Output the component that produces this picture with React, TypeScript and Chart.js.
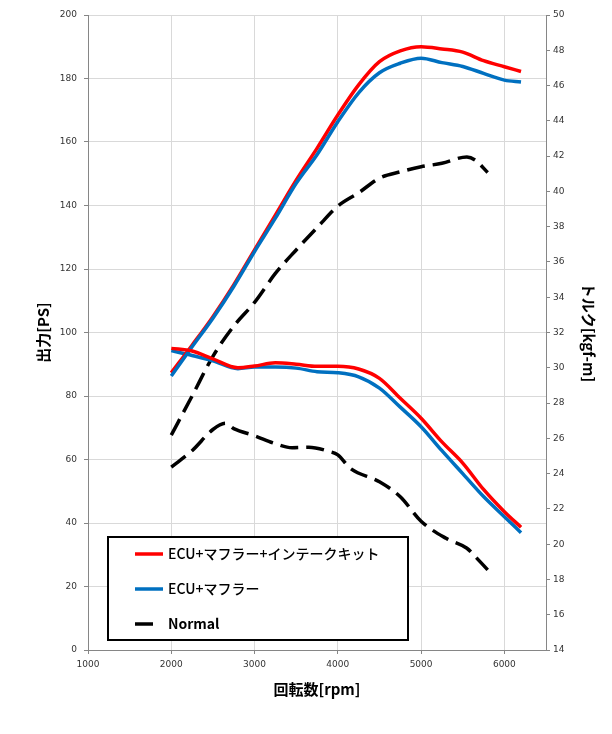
import React, { useEffect, useRef } from 'react';
import { Chart, registerables } from 'chart.js';

Chart.register(...registerables);

// ---- data ----
const xTicksMin = 1000;
const xTicksMax = 6500;
const xTickValues = [1000, 2000, 3000, 4000, 5000, 6000];
const psTickValues = [0, 20, 40, 60, 80, 100, 120, 140, 160, 180, 200];
const torqueTickValues = [14, 16, 18, 20, 22, 24, 26, 28, 30, 32, 34, 36, 38, 40, 42, 44, 46, 48, 50];

const rpmPowerFull = [2000, 2250, 2500, 2750, 3000, 3250, 3500, 3750, 4000, 4250, 4500, 4750, 5000, 5250, 5500, 5750, 6000, 6200];
const powerEcuMufflerIntake = [87.3, 96, 105, 115, 126, 137, 148, 158, 168.5, 178, 185.3, 188.7, 190, 189.3, 188.3, 185.6, 183.7, 182.2];
const powerEcuMuffler = [86.3, 95.5, 104.5, 114.5, 125.5, 136, 147, 156, 166.4, 175.5, 181.8, 184.8, 186.4, 185, 183.8, 181.6, 179.5, 178.9];

const rpmPowerNormal = [2000, 2250, 2500, 2750, 3000, 3250, 3500, 3750, 4000, 4250, 4500, 4750, 5000, 5250, 5550, 5650, 5800];
const powerNormal = [67.7, 80, 92.5, 102, 109.5, 118.6, 126, 133, 139.8, 144, 148.6, 150.6, 152.2, 153.3, 155.3, 154.3, 150.4];

const rpmTorqueFull = [2000, 2250, 2500, 2800, 3000, 3250, 3500, 3750, 4000, 4250, 4500, 4750, 5000, 5250, 5500, 5750, 6000, 6200];
const torqueEcuMufflerIntake = [31.1, 30.95, 30.5, 30.0, 30.1, 30.28, 30.2, 30.08, 30.08, 29.93, 29.4, 28.27, 27.14, 25.8, 24.6, 23.1, 21.84, 20.96];
const torqueEcuMuffler = [30.97, 30.7, 30.4, 29.95, 30.04, 30.04, 29.98, 29.78, 29.72, 29.49, 28.85, 27.77, 26.66, 25.3, 24.0, 22.7, 21.56, 20.65];

const rpmTorqueNormal = [2000, 2250, 2500, 2650, 2750, 3000, 3250, 3450, 3650, 3900, 4000, 4150, 4500, 4750, 5000, 5300, 5550, 5650, 5800];
const torqueNormal = [24.37, 25.3, 26.5, 26.85, 26.55, 26.15, 25.7, 25.47, 25.5, 25.25, 25.06, 24.3, 23.54, 22.69, 21.3, 20.33, 19.77, 19.3, 18.54];

const legendNames = ['ECU+マフラー+インテークキット', 'ECU+マフラー', 'Normal'];
const seriesColors = ['#ff0000', '#0070c0', '#000000'];

const toPoints = (xs: number[], ys: number[]) => xs.map((x, i) => ({ x, y: ys[i] }));
const fixedTicks = (values: number[]) => (s: any) => {
  s.ticks = values.map((v) => ({ value: v }));
};

const legendPlugin = {
  id: 'boxLegend',
  afterDatasetsDraw(chart: any) {
    const ctx = chart.ctx as CanvasRenderingContext2D;
    ctx.save();
    ctx.fillStyle = '#ffffff';
    ctx.fillRect(108, 537, 300, 103);
    ctx.lineWidth = 2;
    ctx.strokeStyle = '#000000';
    ctx.strokeRect(108, 537, 300, 103);
    legendNames.forEach((name, i) => {
      const y = 554 + i * 35;
      ctx.strokeStyle = seriesColors[i];
      ctx.lineWidth = 3.5;
      ctx.beginPath();
      ctx.moveTo(135, y);
      ctx.lineTo(i === 2 ? 153 : 163, y);
      ctx.stroke();
      ctx.fillStyle = '#000000';
      ctx.textBaseline = 'middle';
      ctx.textAlign = 'left';
      ctx.font = (i === 2 ? 'bold ' : '500 ') + '14px "Noto Sans CJK JP", sans-serif';
      ctx.fillText(name, 168, y);
    });
    ctx.restore();
  },
};

export default function App() {
  const ref = useRef<HTMLCanvasElement | null>(null);

  useEffect(() => {
    document.body.style.margin = '0';
    if (!ref.current) return;
    const tickFont = { family: '"DejaVu Sans", sans-serif', size: 9 };
    const titleFont = { family: '"Noto Sans CJK JP", sans-serif', size: 15, weight: 'bold' as const };
    const dash = [18, 8];
    const chart = new Chart(ref.current, {
      type: 'line',
      data: {
        datasets: [
          {
            label: legendNames[0] + ' 出力',
            data: toPoints(rpmPowerFull, powerEcuMufflerIntake),
            borderColor: seriesColors[0],
            yAxisID: 'y',
            order: 3,
          },
          {
            label: legendNames[1] + ' 出力',
            data: toPoints(rpmPowerFull, powerEcuMuffler),
            borderColor: seriesColors[1],
            yAxisID: 'y',
            order: 2,
          },
          {
            label: legendNames[2] + ' 出力',
            data: toPoints(rpmPowerNormal, powerNormal),
            borderColor: seriesColors[2],
            borderDash: dash,
            yAxisID: 'y',
            order: 5,
          },
          {
            label: legendNames[0] + ' トルク',
            data: toPoints(rpmTorqueFull, torqueEcuMufflerIntake),
            borderColor: seriesColors[0],
            yAxisID: 'y1',
            order: 1,
          },
          {
            label: legendNames[1] + ' トルク',
            data: toPoints(rpmTorqueFull, torqueEcuMuffler),
            borderColor: seriesColors[1],
            yAxisID: 'y1',
            order: 4,
          },
          {
            label: legendNames[2] + ' トルク',
            data: toPoints(rpmTorqueNormal, torqueNormal),
            borderColor: seriesColors[2],
            borderDash: dash,
            yAxisID: 'y1',
            order: 6,
          },
        ],
      },
      options: {
        responsive: false,
        animation: false,
        devicePixelRatio: 1,
        layout: { padding: { top: 15, left: 0, right: 0, bottom: 0 } },
        elements: {
          point: { radius: 0 },
          line: { borderWidth: 3.5, cubicInterpolationMode: 'monotone', fill: false },
        },
        plugins: { legend: { display: false }, tooltip: { enabled: false } },
        scales: {
          x: {
            type: 'linear',
            min: xTicksMin,
            max: xTicksMax,
            afterBuildTicks: fixedTicks(xTickValues),
            afterFit: (s: any) => { s.height = 84; },
            ticks: { font: tickFont, color: '#333', padding: 5, maxRotation: 0, autoSkip: false, callback: (v: any) => String(v) },
            grid: { color: '#d9d9d9', tickColor: '#868686', tickLength: 4 },
            border: { color: '#868686' },
            title: { display: true, text: '回転数[rpm]', font: titleFont, color: '#000', padding: { top: 0, bottom: 36 } },
          },
          y: {
            type: 'linear',
            position: 'left',
            min: 0,
            max: 200,
            afterBuildTicks: fixedTicks(psTickValues),
            afterFit: (s: any) => { s.width = 88; },
            ticks: { font: tickFont, color: '#333', padding: 7, autoSkip: false },
            grid: { color: '#d9d9d9', tickColor: '#868686', tickLength: 4 },
            border: { color: '#868686' },
            title: { display: true, text: '出力[PS]', font: titleFont, color: '#000', padding: { top: 34, bottom: 0 } },
          },
          y1: {
            type: 'linear',
            position: 'right',
            min: 14,
            max: 50,
            afterBuildTicks: fixedTicks(torqueTickValues),
            afterFit: (s: any) => { s.width = 66; },
            ticks: { font: tickFont, color: '#333', padding: 3, autoSkip: false },
            grid: { drawOnChartArea: false, color: '#868686', tickColor: '#868686', tickLength: 4 },
            border: { color: '#868686' },
            title: { display: true, text: 'トルク[kgf-m]', font: titleFont, color: '#000', padding: { top: 14, bottom: 0 } },
          },
        },
      },
      plugins: [legendPlugin],
    });
    return () => chart.destroy();
  }, []);

  return (
    <div style={{ position: 'absolute', left: 0, top: 0, width: 612, height: 734, background: '#fff' }}>
      <canvas ref={ref} width={612} height={734} style={{ width: 612, height: 734 }} />
    </div>
  );
}
